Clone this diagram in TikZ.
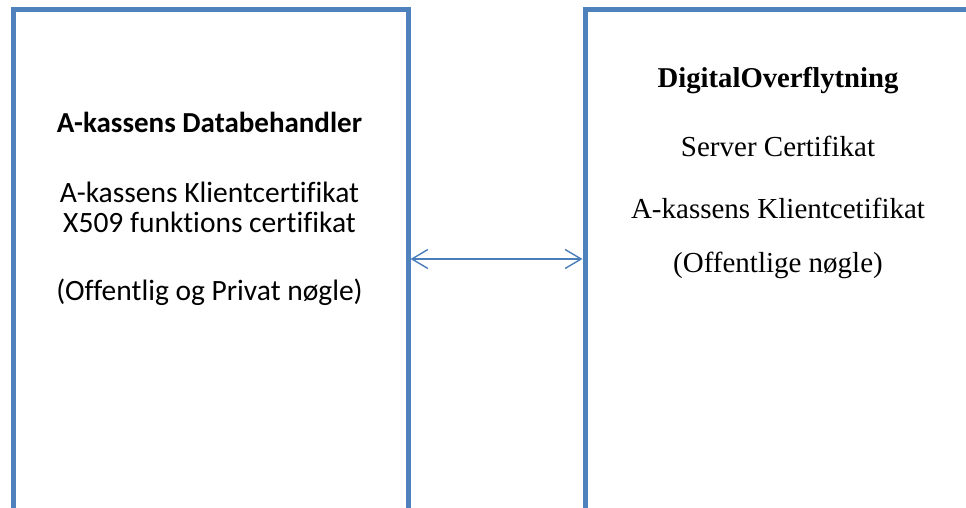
\documentclass[tikz,border=0pt]{standalone}
\usepackage{fontspec}
\setmainfont{Liberation Serif}
\newfontfamily\calibrifont[Ligatures={NoCommon,NoRare,NoContextual}]{Carlito}
\usetikzlibrary{arrows.meta}
\definecolor{boxblue}{HTML}{4F81BD}
\definecolor{arrblue}{HTML}{4A7EBB}
\tikzset{
  panel/.style={draw=boxblue, line width=5pt, fill=none, inner sep=0pt, anchor=north west},
  lefttxt/.style={anchor=base, inner sep=0pt, font=\calibrifont\fontsize{29.5}{34}\selectfont},
  lefttitle/.style={lefttxt, font=\calibrifont\bfseries\fontsize{29}{33}\selectfont},
  righttxt/.style={anchor=base, inner sep=0pt, font=\fontsize{29}{34}\selectfont},
  righttitle/.style={righttxt, font=\bfseries\fontsize{28.7}{34}\selectfont},
  link/.style={draw=arrblue, line width=1.4pt, {Straight Barb[length=16pt,width=19pt]}-{Straight Barb[length=16pt,width=19pt]}}
}
\begin{document}
\begin{tikzpicture}[x=1pt,y=-1pt]
\useasboundingbox (0,0) rectangle (966,508);
\clip (0,0) rectangle (966,508);
\node[panel, minimum width=395pt, minimum height=560pt] (lbox) at (10.5,7.5) {};
\node[panel, minimum width=395pt, minimum height=560pt] (rbox) at (582.5,7.5) {};
\coordinate (ay) at (0,259);
\draw[link] (lbox.east |- ay) -- (rbox.west |- ay);
\node[lefttitle] (l1) at (209.5,132) {A-kassens Databehandler};
\node[lefttxt] (l2) at (209.5,202) {A-kassens Klientcertifikat};
\node[lefttxt] (l3) at (209.5,232) {X509 funktions certifikat};
\node[lefttxt] (l4) at (209.5,300) {(Offentlig og Privat nøgle)};
\node[righttitle] (r1) at (778,88) {DigitalOverflytning};
\node[righttxt] (r2) at (778,157) {Server Certifikat};
\node[righttxt] (r3) at (778,218) {A-kassens Klientcetifikat};
\node[righttxt] (r4) at (778,272) {(Offentlige nøgle)};
\end{tikzpicture}
\end{document}
